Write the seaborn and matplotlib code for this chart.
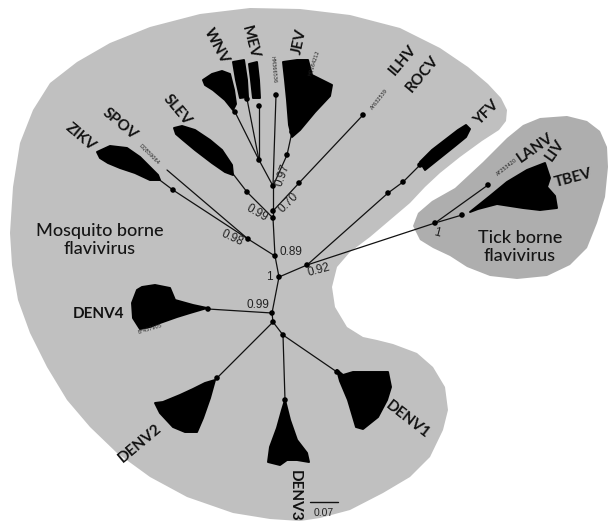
import matplotlib
matplotlib.use("Agg")
import matplotlib.pyplot as plt
import pandas as pd
import seaborn as sns

# --- Tree layout (pixel space, y grows downwards) ---
NODE_NAMES = ["root", "n89", "n99a", "n70", "n97", "n98", "n92", "n99d", "nD", "nD13",
              "nB", "nWNV", "nMEV1", "nMEV2", "nHM", "nJEV", "nJEV2", "nSLEV", "nSLEV2",
              "nILHV", "nILHV2", "nZIKV", "nZIKV2", "nSPOV", "nYFV", "nYFV2", "nYFV3",
              "nTick", "nLANV", "nTBEV", "nD4", "nD2", "nD3", "nD1"]
NODE_X = [279, 275, 273, 273, 273, 248, 307, 272, 273, 283,
          259, 235, 247, 259, 276, 287, 292, 247, 230,
          299, 363, 173, 153, 167, 388, 403, 420,
          435, 488, 462, 208, 217, 285, 337]
NODE_Y = [277, 256, 218, 211, 186, 239, 265, 313, 322, 335,
          160, 112, 99, 106, 95, 155, 132, 192, 170,
          183, 115, 190, 175, 170, 193, 182, 165,
          223, 185, 215, 309, 378, 400, 372]
NO_DOT = ["nSPOV"]

EDGE_FROM = ["root", "root", "root", "n89", "n89", "n99a", "n99a", "nSLEV", "n70", "n70",
             "nILHV", "n97", "n97", "n97", "nJEV", "nB", "nB", "nB", "n98", "nZIKV", "n98",
             "n92", "nYFV", "nYFV2", "n92", "nTick", "nTick", "n99d", "n99d", "nD", "nD",
             "nD13", "nD13"]
EDGE_TO = ["n89", "n92", "n99d", "n99a", "n98", "n70", "nSLEV", "nSLEV2", "n97", "nILHV",
           "nILHV2", "nB", "nHM", "nJEV", "nJEV2", "nWNV", "nMEV1", "nMEV2", "nZIKV", "nZIKV2", "nSPOV",
           "nYFV", "nYFV2", "nYFV3", "nTick", "nLANV", "nTBEV", "nD4", "nD", "nD2", "nD13",
           "nD3", "nD1"]

# collapsed clades (outline of each black fan)
FAN_NAMES = ["WNV", "MEV_a", "MEV_b", "JEV", "SLEV", "ZIKV", "YFV", "TBEV",
             "DENV4", "DENV2", "DENV3", "DENV1"]
FAN_X = [
    [203, 212, 222, 230, 234, 236, 233, 225, 213, 205],
    [233, 244, 247, 248, 240, 236],
    [249, 257, 259, 260, 253, 251],
    [283, 297, 308, 312, 322, 332, 330, 315, 300, 292, 289, 287, 285],
    [174, 182, 195, 210, 222, 232, 233, 225, 212, 195, 183, 176],
    [97, 110, 127, 140, 150, 158, 160, 150, 135, 120, 108, 100],
    [420, 432, 445, 458, 466, 470, 466, 455, 440, 425],
    [470, 490, 507, 527, 545, 550, 547, 555, 557, 540, 523, 497, 478],
    [132, 137, 142, 155, 170, 175, 193, 207, 190, 177, 160, 150, 140, 133],
    [215, 210, 203, 197, 185, 173, 160, 155, 163, 180, 193, 205],
    [285, 290, 297, 307, 309, 297, 287, 280, 268, 270, 277, 282],
    [337, 343, 353, 388, 391, 387, 378, 363, 356, 348, 340],
]
FAN_Y = [
    [80, 74, 71, 74, 90, 104, 110, 100, 90, 85],
    [62, 60, 80, 97, 98, 80],
    [64, 62, 80, 98, 98, 80],
    [62, 60, 60, 75, 80, 85, 96, 112, 130, 137, 125, 100, 80],
    [128, 126, 130, 140, 150, 165, 175, 172, 163, 150, 140, 134],
    [152, 146, 148, 157, 167, 175, 180, 180, 173, 168, 163, 158],
    [162, 150, 140, 130, 125, 129, 137, 146, 158, 170],
    [212, 196, 182, 170, 163, 178, 187, 196, 208, 210, 208, 204, 209],
    [303, 290, 287, 285, 288, 300, 305, 308, 313, 317, 323, 327, 329, 318],
    [380, 398, 418, 432, 432, 427, 413, 403, 402, 395, 389, 383],
    [400, 420, 440, 453, 462, 460, 460, 465, 462, 447, 428, 410],
    [370, 375, 372, 372, 387, 400, 417, 429, 427, 400, 381],
]

# clade labels
CLADE_LABELS = ["WNV", "MEV", "JEV", "ILHV", "ROCV", "YFV", "SLEV", "SPOV", "ZIKV",
                "LANV", "LIV", "TBEV", "DENV4", "DENV2", "DENV3", "DENV1"]
CLADE_X = [216, 250, 300, 403, 422, 487, 177, 120, 81, 535, 555, 573, 98, 140, 295, 408]
CLADE_Y = [46, 42, 42, 60, 74, 113, 110, 124, 137, 148, 150, 178, 314, 443, 496, 420]
CLADE_ROT = [-62, -75, 78, 50, 50, 45, -50, -40, -40, 35, 55, 15, 0, 40, -90, -38]

# accession numbers of single sequences
ACC_LABELS = ["DQ859064", "AY632539", "HM366536", "HQ164212", "AF253420", "EF457905"]
ACC_X = [149, 379, 273, 314, 507, 150]
ACC_Y = [154, 99, 69, 63, 167, 329]
ACC_ROT = [-45, 52, -85, 72, 38, 17]

# posterior support values
SUPPORT = ["0.97", "0.70", "0.99", "0.98", "0.89", "1", "0.92", "0.99", "1"]
SUPPORT_X = [283, 289, 257, 232, 291, 269, 319, 258, 437]
SUPPORT_Y = [175, 203, 213, 238, 252, 277, 270, 305, 233]
SUPPORT_ROT = [70, 45, -30, -25, 0, 0, 15, 0, -15]

# shaded groups
MOSQ_X = [10, 13, 20, 33, 50, 77, 110, 150, 200, 250, 300, 350, 400, 440, 468, 488, 501, 507,
          506, 499, 482, 460, 440, 425, 410, 390, 370, 350, 337, 332, 335, 347, 363, 377, 393,
          417, 433, 445, 448, 443, 430, 410, 383, 350, 320, 300, 270, 233, 187, 150, 117, 90,
          67, 47, 30, 18, 12]
MOSQ_Y = [233, 187, 143, 110, 83, 62, 43, 27, 14, 8, 9, 15, 28, 48, 67, 84, 98, 110,
          121, 130, 141, 157, 173, 187, 203, 220, 237, 252, 267, 287, 307, 327, 337, 340, 344,
          353, 367, 387, 410, 430, 457, 477, 493, 510, 518, 521, 519, 513, 497, 477, 453, 427,
          400, 367, 333, 300, 265]
TICK_X = [413, 418, 432, 455, 483, 507, 523, 540, 567, 587, 600, 607, 608, 605, 597, 587, 570,
          547, 517, 490, 467, 450, 433, 420]
TICK_Y = [226, 213, 201, 188, 162, 138, 125, 118, 116, 121, 131, 147, 167, 197, 223, 248, 265,
          276, 279, 276, 267, 256, 248, 240]

SCALE_X = [310, 338]
SCALE_Y = [502, 502]
SCALE_LABEL = "0.07"


def main():
    sns.set_style("white")
    plt.rcParams["font.family"] = ["Lato", "DejaVu Sans"]

    fig = plt.figure(figsize=(6.08, 5.24), dpi=100)
    ax = fig.add_axes([0, 0, 1, 1])
    ax.set_xlim(0, 608)
    ax.set_ylim(524, 0)
    ax.axis("off")

    ax.fill(MOSQ_X, MOSQ_Y, color="#c0c0c0", lw=0, zorder=0)
    ax.fill(TICK_X, TICK_Y, color="#aeaeae", lw=0, zorder=0)

    nodes = pd.DataFrame({"name": NODE_NAMES, "x": NODE_X, "y": NODE_Y}).set_index("name")

    for a, b in zip(EDGE_FROM, EDGE_TO):
        ax.plot([nodes.loc[a, "x"], nodes.loc[b, "x"]], [nodes.loc[a, "y"], nodes.loc[b, "y"]],
                color="#111111", lw=0.9, zorder=2, solid_capstyle="round")

    # collapsed clades drawn as solid fans
    for xs, ys in zip(FAN_X, FAN_Y):
        ax.fill(xs, ys, facecolor="black", edgecolor="black", lw=1.4,
                joinstyle="round", zorder=3)

    dots = nodes[~nodes.index.isin(NO_DOT)].reset_index()
    sns.scatterplot(data=dots, x="x", y="y", color="black", s=16, edgecolor="none",
                    ax=ax, zorder=4, legend=False)

    for lab, x, y, r in zip(CLADE_LABELS, CLADE_X, CLADE_Y, CLADE_ROT):
        ax.text(x, y, lab, rotation=r, ha="center", va="center", fontsize=11,
                fontweight="bold", color="#111111", rotation_mode="anchor", zorder=5)

    for lab, x, y, r in zip(ACC_LABELS, ACC_X, ACC_Y, ACC_ROT):
        ax.text(x, y, lab, rotation=r, ha="center", va="center", fontsize=3.6,
                family="DejaVu Sans", color="#222222", rotation_mode="anchor", zorder=5)

    for lab, x, y, r in zip(SUPPORT, SUPPORT_X, SUPPORT_Y, SUPPORT_ROT):
        ax.text(x, y, lab, rotation=r, ha="center", va="center", fontsize=8.5,
                family="Liberation Sans", color="#222222", rotation_mode="anchor", zorder=5)

    ax.text(100, 240, "Mosquito borne\nflavivirus", ha="center", va="center",
            fontsize=13, fontweight="medium", color="#151515", linespacing=1.1, zorder=5)
    ax.text(520, 247, "Tick borne\nflavivirus", ha="center", va="center",
            fontsize=13, fontweight="medium", color="#151515", linespacing=1.1, zorder=5)

    sns.lineplot(x=SCALE_X, y=SCALE_Y, color="#111111", lw=1.0, ax=ax)
    ax.text(sum(SCALE_X) / 2, SCALE_Y[0] + 11, SCALE_LABEL, ha="center", va="center",
            fontsize=7.5, family="Liberation Sans", color="#222222")

    fig.savefig("out.png", dpi=100)
    plt.close(fig)


if __name__ == "__main__":
    main()
